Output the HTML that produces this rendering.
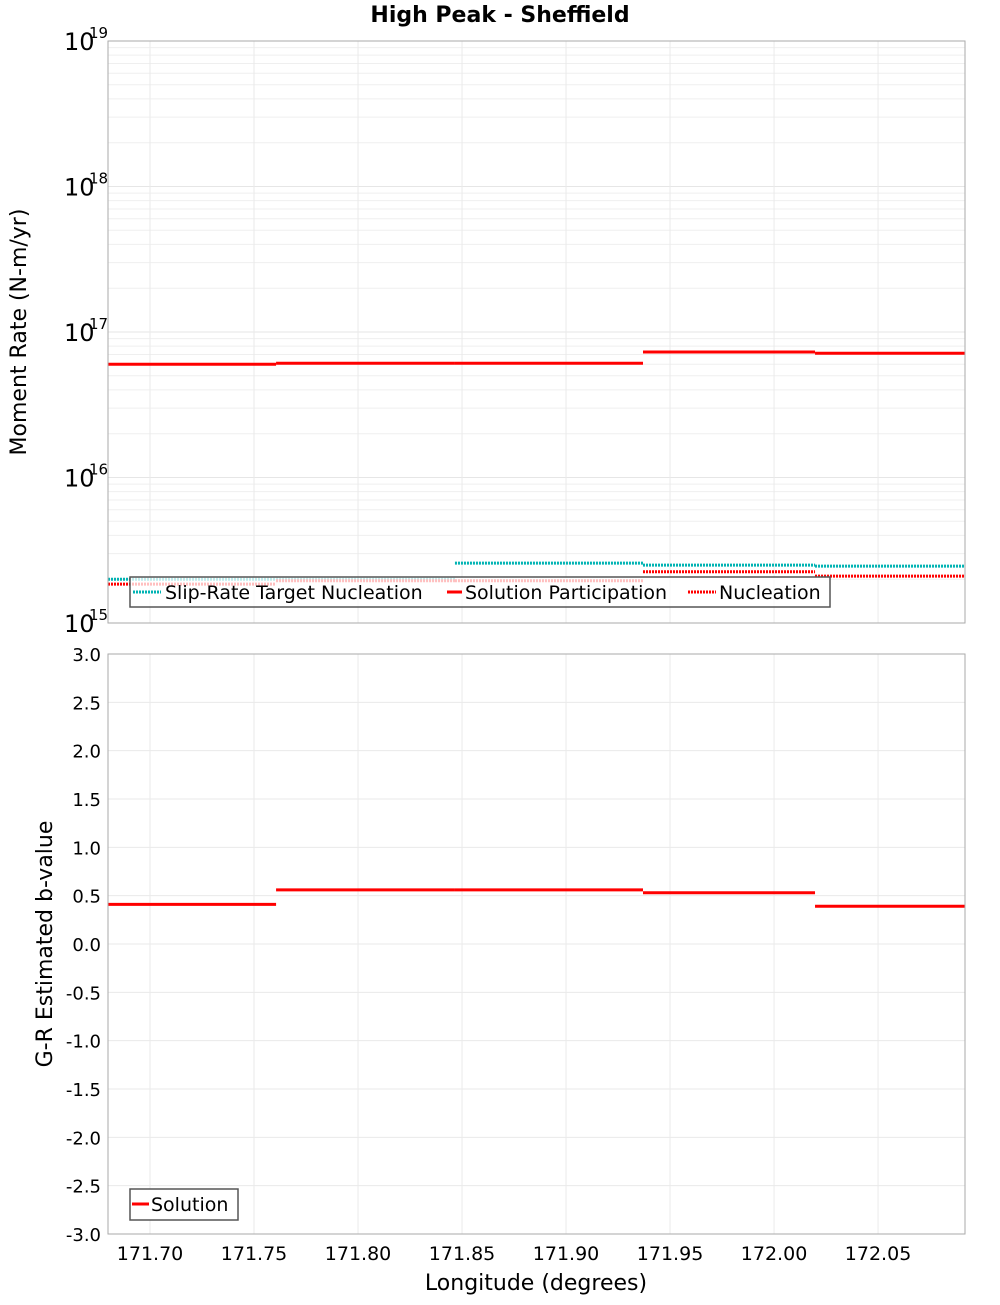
<!DOCTYPE html>
<html><head><meta charset="utf-8"><style>
body{margin:0;background:#fff;width:1000px;height:1300px;overflow:hidden}
svg{font-family:"DejaVu Sans","Liberation Sans",sans-serif}
</style></head><body>
<svg id="c" width="1000" height="1300" xmlns="http://www.w3.org/2000/svg"></svg>
<script>
const edges=[171.6798,171.7606,171.8466,171.9370,172.0197,172.0918];
const participation=[6.0e16,6.1e16,6.1e16,7.28e16,7.15e16];
const targetNucleation=[2.0e15,2.0e15,2.58e15,2.5e15,2.46e15];
const nucleation=[1.85e15,1.95e15,1.95e15,2.25e15,2.1e15];
const bValues=[0.41,0.56,0.56,0.53,0.39];
const xTicks=[171.70,171.75,171.80,171.85,171.90,171.95,172.00,172.05];
const bTicks=[3.0,2.5,2.0,1.5,1.0,0.5,0.0,-0.5,-1.0,-1.5,-2.0,-2.5,-3.0];
const decades=[15,16,17,18,19];

const L=108,R=965,T1=41,B1=623,T2=654,B2=1234;
const X0=171.6798,X1=172.0918;
const sx=v=>L+(v-X0)/(X1-X0)*(R-L);
const sy1=v=>B1-(Math.log10(v)-15)/4*(B1-T1);
const sy2=v=>B2-(v+3)/6*(B2-T2);
const svg=document.getElementById('c');
const NS='http://www.w3.org/2000/svg';
function mk(tag,attrs,parent){const e=document.createElementNS(NS,tag);for(const k in attrs)e.setAttribute(k,attrs[k]);(parent||svg).appendChild(e);return e;}

// backgrounds
let e=mk('rect',{x:L,y:T1,width:R-L,height:B1-T1,fill:'#fff',stroke:'none'});


e=mk('rect',{x:L,y:T2,width:R-L,height:B2-T2,fill:'#fff',stroke:'none'});



// top grid
for(let d=15;d<19;d++){for(let m=1;m<10;m++){const y=sy1(m*Math.pow(10,d));
 e=mk('line',{x1:L,x2:R,y1:y,y2:y,stroke:m==1?'#e6e6e6':'#efefef','stroke-width':1});
 
 }}
xTicks.forEach(t=>{const x=sx(t);
 e=mk('line',{x1:x,x2:x,y1:T1,y2:B1,stroke:'#eaeaea'});
 
 
 e=mk('line',{x1:x,x2:x,y1:T2,y2:B2,stroke:'#eaeaea'});
 
 
 e=mk('text',{x:x,y:1260,'font-size':19,'text-anchor':'middle',fill:'#000'});e.textContent=t.toFixed(2);
 
 
});
bTicks.forEach(t=>{const y=sy2(t);
 e=mk('line',{x1:L,x2:R,y1:y,y2:y,stroke:'#eaeaea'});
 
 
 e=mk('text',{x:101,y:y+7,'font-size':18,'text-anchor':'end',fill:'#000'});e.textContent=t.toFixed(1);
 
 
});
decades.forEach(d=>{const y=sy1(Math.pow(10,d));
 e=mk('text',{x:64,y:y+9,'font-size':24,fill:'#000'});e.textContent='10';
 
 
 e=mk('text',{x:89,y:y-3,'font-size':15,fill:'#000'});e.textContent=String(d);
 
 
});

function steps(vals,sy,attrs,name){
 for(let i=0;i<vals.length;i++){
  const l=mk('line',Object.assign({x1:sx(edges[i]),x2:sx(edges[i+1]),y1:sy(vals[i]),y2:sy(vals[i])},attrs));
  
  
 }
}
steps(targetNucleation,sy1,{stroke:'#00b3b3','stroke-width':3,'stroke-dasharray':'2 1'},'target-nucleation');
steps(nucleation,sy1,{stroke:'#ff0000','stroke-width':3,'stroke-dasharray':'2 1'},'nucleation');
steps(participation,sy1,{stroke:'#ff0000','stroke-width':3},'participation');
steps(bValues,sy2,{stroke:'#ff0000','stroke-width':3},'b-value');

// frames
e=mk('rect',{x:L,y:T1,width:R-L,height:B1-T1,fill:'none',stroke:'#aaa'});


e=mk('rect',{x:L,y:T2,width:R-L,height:B2-T2,fill:'none',stroke:'#aaa'});



// legend top
const lg=mk('g',{});


mk('rect',{x:130,y:577,width:700,height:30,fill:'rgba(255,255,255,0.75)',stroke:'#555','stroke-width':1.5},lg);
mk('line',{x1:133,x2:161,y1:592,y2:592,stroke:'#00b3b3','stroke-width':3,'stroke-dasharray':'2 1'},lg);
e=mk('text',{x:165,y:599,'font-size':19},lg);e.textContent='Slip-Rate Target Nucleation';
mk('line',{x1:447,x2:462,y1:592,y2:592,stroke:'#ff0000','stroke-width':3},lg);
e=mk('text',{x:465,y:599,'font-size':19},lg);e.textContent='Solution Participation';
mk('line',{x1:688,x2:716,y1:592,y2:592,stroke:'#ff0000','stroke-width':3,'stroke-dasharray':'2 1'},lg);
e=mk('text',{x:719,y:599,'font-size':19},lg);e.textContent='Nucleation';

const lg2=mk('g',{});


mk('rect',{x:130,y:1189,width:108,height:31,fill:'#fff',stroke:'#555','stroke-width':1.5},lg2);
mk('line',{x1:132,x2:149,y1:1204,y2:1204,stroke:'#ff0000','stroke-width':3},lg2);
e=mk('text',{x:151,y:1211,'font-size':19},lg2);e.textContent='Solution';

// titles
e=mk('text',{x:500,y:22,'font-size':22,'font-weight':'bold','text-anchor':'middle'});e.textContent='High Peak - Sheffield';


e=mk('text',{x:0,y:0,'font-size':22,'text-anchor':'middle',transform:'translate(26,332) rotate(-90)'});e.textContent='Moment Rate (N-m/yr)';


e=mk('text',{x:0,y:0,'font-size':22,'text-anchor':'middle',transform:'translate(52,944) rotate(-90)'});e.textContent='G-R Estimated b-value';


e=mk('text',{x:536,y:1290,'font-size':22,'text-anchor':'middle'});e.textContent='Longitude (degrees)';


</script>
</body></html>
